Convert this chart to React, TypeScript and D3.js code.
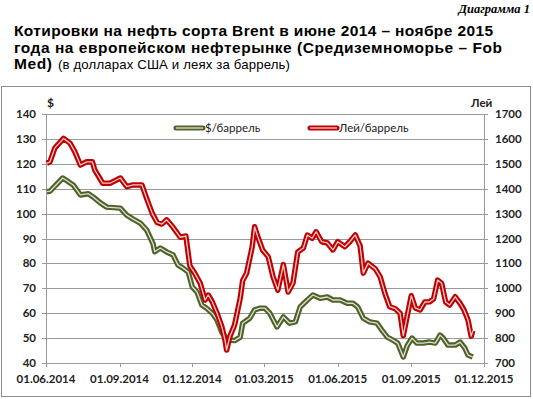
import React from "react";
import * as d3 from "d3";

// Brent quotes, Fob Med, $ per barrel
const usdDates = [
  "2014-06-02", "2014-06-06", "2014-06-12", "2014-06-22", "2014-07-05", "2014-07-14",
  "2014-07-24", "2014-07-30", "2014-08-08", "2014-08-16", "2014-09-02", "2014-09-10",
  "2014-09-18", "2014-09-27", "2014-10-05", "2014-10-13", "2014-10-15", "2014-10-22",
  "2014-10-30", "2014-11-07", "2014-11-13", "2014-11-19", "2014-11-26", "2014-12-01",
  "2014-12-07", "2014-12-13", "2014-12-19", "2014-12-26", "2015-01-01", "2015-01-07",
  "2015-01-12", "2015-01-17", "2015-01-23", "2015-01-30", "2015-02-02", "2015-02-11",
  "2015-02-17", "2015-02-24", "2015-03-02", "2015-03-08", "2015-03-17", "2015-03-25",
  "2015-04-02", "2015-04-09", "2015-04-15", "2015-04-24", "2015-05-01", "2015-05-10",
  "2015-05-19", "2015-05-26", "2015-06-04", "2015-06-13", "2015-06-20", "2015-06-26",
  "2015-07-03", "2015-07-11", "2015-07-20", "2015-07-26", "2015-08-02", "2015-08-09",
  "2015-08-15", "2015-08-22", "2015-08-27", "2015-09-02", "2015-09-08", "2015-09-16",
  "2015-09-24", "2015-10-01", "2015-10-07", "2015-10-11", "2015-10-17", "2015-10-26",
  "2015-11-01", "2015-11-07", "2015-11-11", "2015-11-17",
];
const usdValues = [
  108.8, 109, 111, 114.3, 111.5, 107.5,
  108, 106.7, 104.3, 102.6, 102.2, 99.4,
  97.8, 96.2, 93.4, 87.8, 84.7, 86.2,
  84.6, 83.4, 79.4, 78.2, 76.5, 70.6,
  68.5, 63.3, 62, 60, 57.3, 52.4,
  50, 49.2, 49, 50.4, 56, 58,
  61.3, 62, 62, 60, 54.5, 58.5,
  56, 56.5, 62.5, 65.3, 67.3, 66,
  66.5, 65.3, 65.3, 64, 64, 62.5,
  58, 56.5, 56, 53.3, 50.4, 49.2,
  48, 42.4, 47, 50, 48, 48,
  48.4, 48, 51.2, 50, 47.2, 47.2,
  48.4, 46, 43.2, 42.4,
];

// same quotes in lei per barrel
const mdlDates = [
  "2014-06-02", "2014-06-06", "2014-06-12", "2014-06-23", "2014-07-01", "2014-07-07",
  "2014-07-14", "2014-07-22", "2014-07-29", "2014-08-01", "2014-08-11", "2014-08-20",
  "2014-09-02", "2014-09-10", "2014-09-18", "2014-09-29", "2014-10-05", "2014-10-12",
  "2014-10-18", "2014-10-24", "2014-10-30", "2014-11-07", "2014-11-16", "2014-11-23",
  "2014-11-28", "2014-12-04", "2014-12-11", "2014-12-17", "2014-12-21", "2014-12-26",
  "2015-01-01", "2015-01-07", "2015-01-11", "2015-01-13", "2015-01-17", "2015-01-23",
  "2015-01-30", "2015-02-02", "2015-02-07", "2015-02-14", "2015-02-17", "2015-02-21",
  "2015-02-27", "2015-03-06", "2015-03-12", "2015-03-18", "2015-03-25", "2015-03-31",
  "2015-04-06", "2015-04-12", "2015-04-19", "2015-04-24", "2015-04-30", "2015-05-05",
  "2015-05-12", "2015-05-19", "2015-05-26", "2015-06-01", "2015-06-10", "2015-06-16",
  "2015-06-23", "2015-06-29", "2015-07-03", "2015-07-09", "2015-07-18", "2015-07-24",
  "2015-07-30", "2015-08-05", "2015-08-12", "2015-08-18", "2015-08-22", "2015-08-27",
  "2015-09-01", "2015-09-06", "2015-09-12", "2015-09-18", "2015-09-24", "2015-09-29",
  "2015-10-04", "2015-10-09", "2015-10-14", "2015-10-19", "2015-10-26", "2015-11-01",
  "2015-11-06", "2015-11-11", "2015-11-15", "2015-11-17",
];
const mdlValues = [
  1502, 1508, 1563, 1602, 1583, 1549,
  1495, 1508, 1508, 1475, 1422, 1422,
  1443, 1408, 1415, 1415, 1360, 1300,
  1265, 1258, 1275, 1245, 1205, 1210,
  1090, 1061, 1020, 953, 973, 946,
  900, 846, 792, 752, 806, 853,
  960, 1030, 1061, 1167, 1247, 1207,
  1154, 1127, 1047, 993, 1095, 985,
  1021, 1146, 1162, 1214, 1201, 1227,
  1187, 1182, 1154, 1187, 1167, 1187,
  1214, 1170, 1061, 1101, 1078, 1047,
  980, 926, 918, 900, 810, 890,
  970, 921, 913, 945, 946, 958,
  1033, 1020, 945, 933, 966, 940,
  913, 873, 808, 830,
];

const xTickDates = ["2014-06-01", "2014-09-01", "2014-12-01", "2015-03-01", "2015-06-01", "2015-09-01", "2015-12-01"];
const xTickLabels = ["01.06.2014", "01.09.2014", "01.12.2014", "01.03.2015", "01.06.2015", "01.09.2015", "01.12.2015"];
const usdTicks = [40, 50, 60, 70, 80, 90, 100, 110, 120, 130, 140];
const mdlTicks = [700, 800, 900, 1000, 1100, 1200, 1300, 1400, 1500, 1600, 1700];
const seriesNames = ["$/баррель", "Лей/баррель"];

const parse = d3.timeParse("%Y-%m-%d");

const App = () => {
  const width = 533;
  const height = 399;
  const plot = { left: 46, right: 484, top: 114, bottom: 363 };

  const x = d3
    .scaleTime()
    .domain([parse("2014-06-01"), parse("2015-12-01")])
    .range([plot.left, plot.right]);
  const yUsd = d3.scaleLinear().domain([40, 140]).range([plot.bottom, plot.top]);
  const yMdl = d3.scaleLinear().domain([700, 1700]).range([plot.bottom, plot.top]);

  const usdLine = d3
    .line<number>()
    .x((d, i) => x(parse(usdDates[i])))
    .y((d) => yUsd(d));
  const mdlLine = d3
    .line<number>()
    .x((d, i) => x(parse(mdlDates[i])))
    .y((d) => yMdl(d));

  const green = "#4f6228";
  const red = "#c00000";
  const grid = "#9a9a9a";
  const axisFont = "Lato, 'Open Sans', sans-serif";

  return (
    <svg
      width={width}
      height={height}
      style={{ position: "absolute", left: 0, top: 0, background: "#fff" }}
    >
      {/* caption */}
      <text x={530} y={13} textAnchor="end" fontFamily="'Liberation Serif', serif" fontStyle="italic" fontWeight="bold" fontSize={12.5}>
        Диаграмма 1
      </text>
      <g fontFamily="'Liberation Sans', Arial, sans-serif" fontSize={15.5} fill="#000">
        <text x={14} y={36} fontWeight="bold" textLength={479} lengthAdjust="spacing">
          Котировки на нефть сорта Brent в июне 2014 – ноябре 2015
        </text>
        <text x={14} y={53} fontWeight="bold" textLength={488} lengthAdjust="spacing">
          года на европейском нефтерынке (Средиземноморье – Fob
        </text>
        <text x={14} y={69} fontWeight="bold" textLength={38} lengthAdjust="spacing">Med)</text>
        <text x={58} y={69} fontSize={13.2} textLength={232} lengthAdjust="spacing">
          (в долларах США и леях за баррель)
        </text>
      </g>

      {/* chart frame */}
      <rect x={1.5} y={86.5} width={529} height={310} fill="none" stroke="#8c8c8c" />

      {/* gridlines */}
      {usdTicks.map((t) => (
        <line key={t} x1={plot.left} x2={plot.right} y1={Math.round(yUsd(t)) + 0.5} y2={Math.round(yUsd(t)) + 0.5} stroke={grid} />
      ))}

      {/* axes */}
      <line x1={plot.left + 0.5} x2={plot.left + 0.5} y1={plot.top} y2={plot.bottom} stroke={grid} />
      <line x1={plot.right + 0.5} x2={plot.right + 0.5} y1={plot.top} y2={plot.bottom} stroke={grid} />

      <g fontFamily={axisFont} fontWeight="bold" fontSize={11.5} fill="#222">
        {usdTicks.map((t) => (
          <g key={t}>
            <line x1={plot.left - 4} x2={plot.left} y1={Math.round(yUsd(t)) + 0.5} y2={Math.round(yUsd(t)) + 0.5} stroke={grid} />
            <text x={36} y={yUsd(t)} dy="0.35em" textAnchor="end">{t}</text>
          </g>
        ))}
        {mdlTicks.map((t) => (
          <g key={t}>
            <line x1={plot.right} x2={plot.right + 4} y1={Math.round(yMdl(t)) + 0.5} y2={Math.round(yMdl(t)) + 0.5} stroke={grid} />
            <text x={495} y={yMdl(t)} dy="0.35em">{t}</text>
          </g>
        ))}
        {xTickDates.map((d, i) => (
          <g key={d}>
            <line x1={Math.round(x(parse(d))) + 0.5} x2={Math.round(x(parse(d))) + 0.5} y1={plot.bottom} y2={plot.bottom + 4} stroke={grid} />
            <text x={x(parse(d))} y={383} textAnchor="middle">{xTickLabels[i]}</text>
          </g>
        ))}
        <text x={47} y={107} fontSize={12}>$</text>
        <text x={471} y={107}>Лей</text>
      </g>

      {/* series: thick line with a thin light core */}
      <path d={usdLine(usdValues)} fill="none" stroke={green} strokeWidth={5.5} strokeLinejoin="round" />
      <path d={usdLine(usdValues)} fill="none" stroke="#fff" strokeOpacity={0.8} strokeWidth={1.3} strokeLinejoin="round" />
      <path d={mdlLine(mdlValues)} fill="none" stroke={red} strokeWidth={5.5} strokeLinejoin="round" />
      <path d={mdlLine(mdlValues)} fill="none" stroke="#fff" strokeOpacity={0.8} strokeWidth={1.3} strokeLinejoin="round" />

      {/* legend */}
      <g fontFamily={axisFont} fontSize={11.5} fill="#222">
        <line x1={176} x2={203} y1={128} y2={128} stroke={green} strokeWidth={5} strokeLinecap="round" />
        <line x1={176} x2={203} y1={128} y2={128} stroke="#fff" strokeOpacity={0.8} strokeWidth={1.3} />
        <text x={205} y={128} dy="0.35em">{seriesNames[0]}</text>
        <line x1={310} x2={337} y1={128} y2={128} stroke={red} strokeWidth={5} strokeLinecap="round" />
        <line x1={310} x2={337} y1={128} y2={128} stroke="#fff" strokeOpacity={0.8} strokeWidth={1.3} />
        <text x={339} y={128} dy="0.35em">{seriesNames[1]}</text>
      </g>
    </svg>
  );
};

export default App;
